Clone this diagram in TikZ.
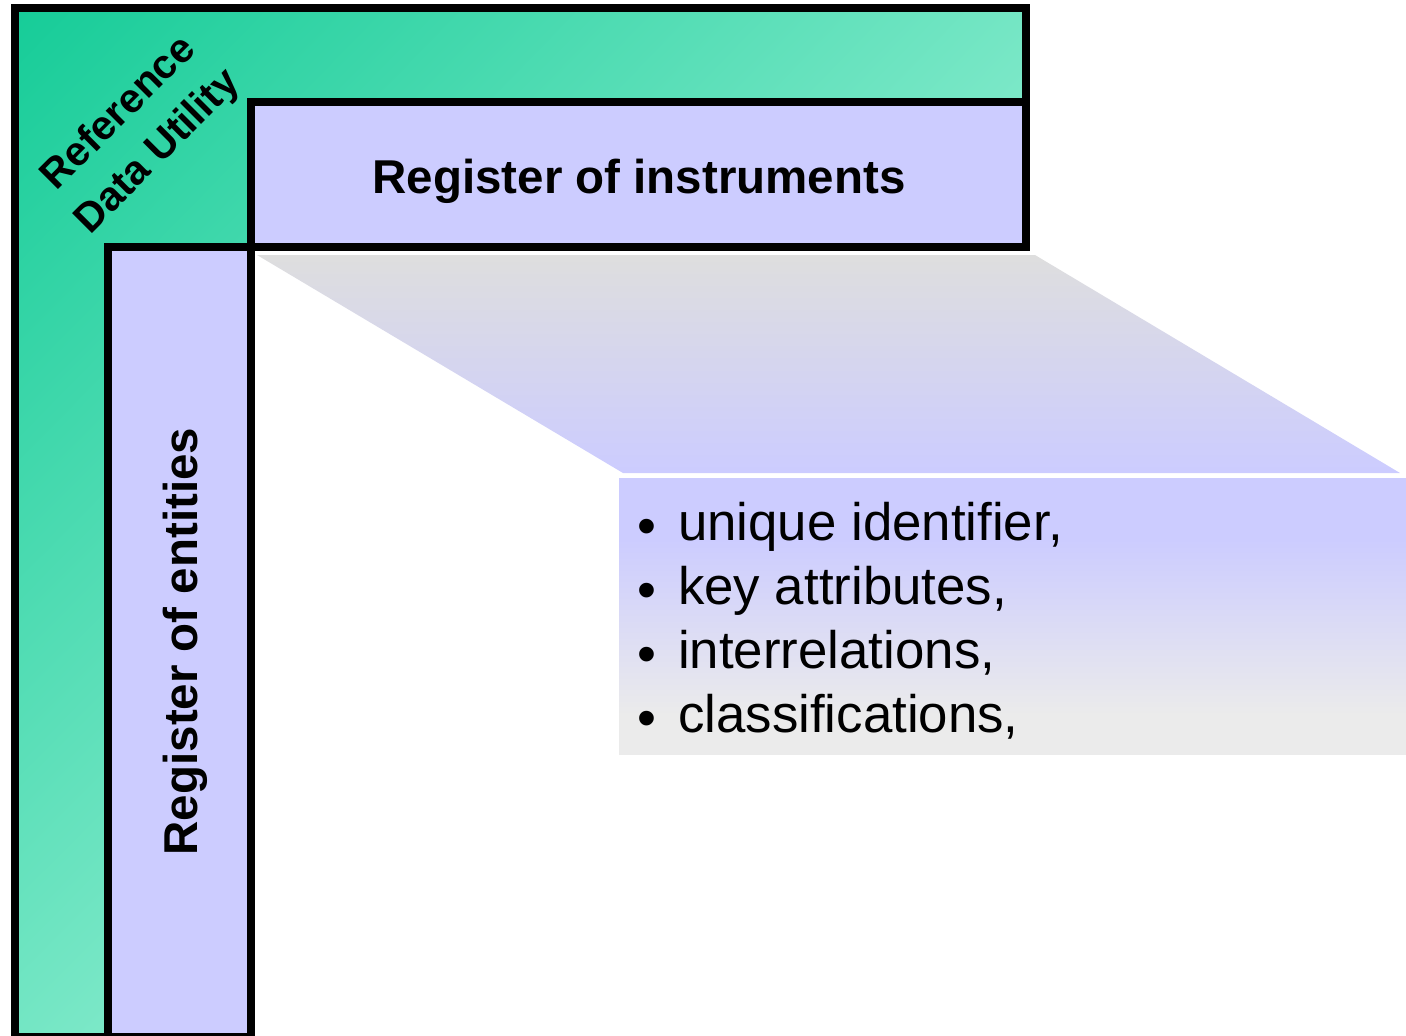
\documentclass[tikz,border=0pt]{standalone}
\usepackage{fontspec}
\setmainfont{Liberation Sans}
\usetikzlibrary{shadings}
\definecolor{rduA}{RGB}{22,204,152}
\definecolor{rduM}{RGB}{116,230,196}
\definecolor{rduB}{RGB}{210,255,240}
\definecolor{regfill}{RGB}{204,204,255}
\definecolor{fadegray}{RGB}{235,235,235}
\definecolor{trapgray}{RGB}{222,222,222}
% info panel: lavender at the top, fading to light grey at the bottom
\pgfdeclareverticalshading{infofade}{100bp}{color(0bp)=(fadegray); color(32bp)=(fadegray); color(64bp)=(regfill); color(100bp)=(regfill)}
\begin{document}
\begin{tikzpicture}[x=1pt,y=-1pt,
  frame/.style={draw=black,line width=8pt,line join=miter},
  boldlabel/.style={font=\fontsize{47.5}{57}\selectfont\bfseries,inner sep=0pt},
  cornerlabel/.style={font=\fontsize{41}{55}\selectfont\bfseries,inner sep=0pt,align=center,rotate=45},
  itemtext/.style={font=\fontsize{52.8}{64}\selectfont,inner sep=0pt,anchor=base west},
  itemdot/.style={font=\fontsize{54}{64}\selectfont,inner sep=0pt,anchor=base}]
\useasboundingbox (0,0) rectangle (1406,1036);

% zoom-out shadow from the instruments box to the info panel
\shade[top color=trapgray,bottom color=regfill]
  (257,255) -- (1035,255) -- (1400,473) -- (623,473) -- cycle;
\shade[shading=infofade] (619,478) rectangle (1406,754);

% outer L-shaped utility frame
\begin{scope}
  \clip (15,8) -- (1026,8) -- (1026,102) -- (251,102) -- (251,247)
        -- (108,247) -- (108,1037) -- (15,1037) -- cycle;
  \shade[upper left=rduA,upper right=rduM,lower left=rduM,lower right=rduB]
    (15,8) rectangle (1026,1037);
\end{scope}
\draw[frame] (15,8) -- (1026,8) -- (1026,102) -- (251,102) -- (251,247)
        -- (108,247) -- (108,1037) -- (15,1037) -- cycle;

% the two registers
\draw[frame,fill=regfill] (251,102) rectangle (1026,247);
\draw[frame,fill=regfill] (108,247) rectangle (251,1037);

\node[cornerlabel] (rdu) at (139,133) {Reference\\Data Utility};
\node[boldlabel,anchor=base] (instr) at (639,193) {Register of instruments};
\node[boldlabel,anchor=base,rotate=90] (ent) at (197,641.5) {Register of entities};

% bullet list
\node[itemtext] (i1) at (678,540) {unique identifier,};
\node[itemtext] (i2) at (678,604) {key attributes,};
\node[itemtext] (i3) at (678,668) {interrelations,};
\node[itemtext] (i4) at (678,732) {classifications,};
\node[itemdot] (d1) at (647,544) {•};
\node[itemdot] (d2) at (647,608) {•};
\node[itemdot] (d3) at (647,672) {•};
\node[itemdot] (d4) at (647,736) {•};
\end{tikzpicture}
\end{document}
